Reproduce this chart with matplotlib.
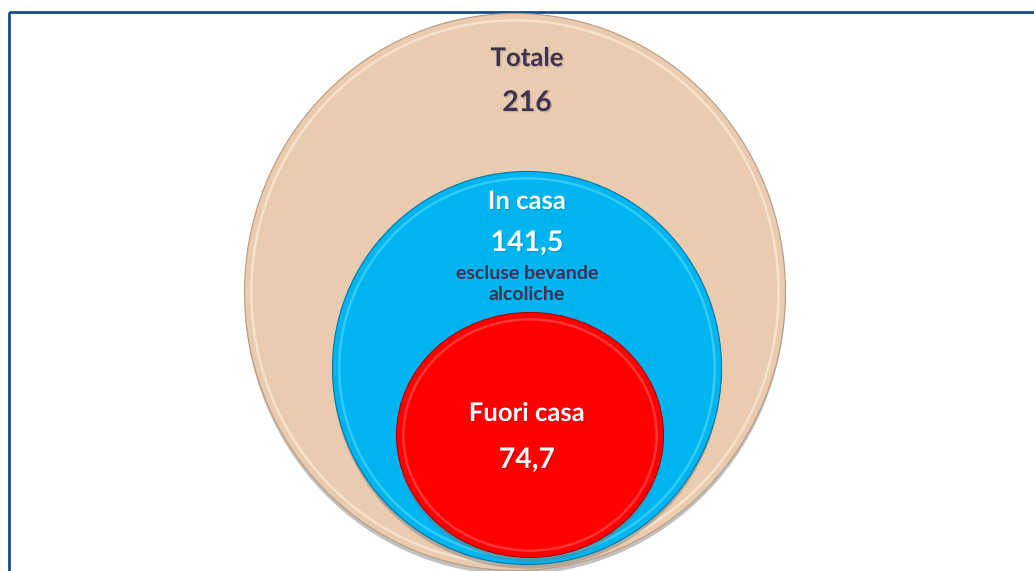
import matplotlib.pyplot as plt
from matplotlib.patches import Ellipse, Rectangle
import matplotlib.patheffects as pe

# Data
labels = ["Totale", "In casa", "Fuori casa"]
values = ["216", "141,5", "74,7"]
notes = ["", "escluse bevande\nalcoliche", ""]

# Layout (pixel coords: center x, center y, width, height)
shapes = [(515, 292, 541, 557), (527, 368, 389, 393), (530, 435, 267, 245)]
fills = ["#E9CBAF", "#00B4F0", "#FF0000"]
rims = ["#FFF3E3", "#55DDFF", "#FF5C5C"]
edges = ["#B89A80", "#0077A8", "#A80000"]
label_colors = ["#3F3151", "white", "white"]
label_y = [58, 201, 413]
value_y = [103, 243, 460]

fig = plt.figure(figsize=(10.34, 5.71), dpi=100)
ax = fig.add_axes([0, 0, 1, 1])
ax.set_xlim(0, 1034)
ax.set_ylim(571, 0)
ax.axis("off")

# outer frame
ax.add_patch(Rectangle((9, 12), 1200, 800, fill=False, edgecolor="#174C8C",
                       linewidth=2.0, zorder=1))

shadow = [pe.SimplePatchShadow(offset=(0, -3), shadow_rgbFace="#777777", alpha=0.45)]

for i, (cx, cy, w, h) in enumerate(shapes):
    z = 2 + i * 3
    # body with drop shadow
    ax.add_patch(Ellipse((cx, cy), w, h, facecolor=fills[i], edgecolor=edges[i],
                         linewidth=0.8, zorder=z, path_effects=shadow + [pe.Normal()]))
    # bevel highlight ring
    ax.add_patch(Ellipse((cx, cy), w - 14, h - 14, facecolor="none", edgecolor=rims[i],
                         linewidth=2.0, alpha=0.6, zorder=z + 1))
    ax.add_patch(Ellipse((cx, cy), w - 20, h - 20, facecolor="none", edgecolor=fills[i],
                         linewidth=3, alpha=0.6, zorder=z + 1))

txt_fx = [pe.withSimplePatchShadow(offset=(1, -1), shadow_rgbFace="#000000", alpha=0.12)]
for i in range(len(labels)):
    ax.text(527, label_y[i], labels[i], ha="center", va="center", fontsize=18.5,
            fontweight="bold", family="Lato", color=label_colors[i], zorder=20,
            path_effects=txt_fx)
    ax.text(527, value_y[i], values[i], ha="center", va="center", fontsize=20.5,
            fontweight="bold", family="Lato", color=label_colors[i], zorder=20,
            path_effects=txt_fx)
    if notes[i]:
        ax.text(527, 284, notes[i], ha="center", va="center", fontsize=14,
                fontweight="bold", family="Lato", color="#3F3151", zorder=20,
                linespacing=1.25)

fig.savefig("out.png", dpi=100)
